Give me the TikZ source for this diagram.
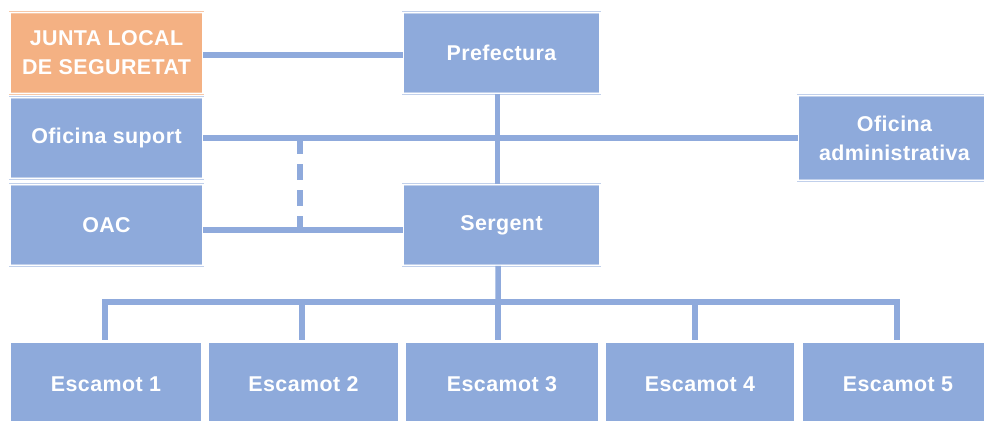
\documentclass[tikz,border=0pt]{standalone}
\usepackage{fontspec}
\setmainfont[LetterSpace=2]{Liberation Sans}
\usetikzlibrary{calc}
\definecolor{boxblue}{HTML}{8EAADB}
\definecolor{boxorange}{HTML}{F4B183}
\definecolor{lineblue}{HTML}{8FAADC}
\begin{document}
\begin{tikzpicture}[x=1bp,y=-1bp,
  orgbox/.style={rectangle, fill=boxblue, draw=boxblue!55, double=white, double distance=1.2bp, line width=0.6bp,
     minimum width=193bp, minimum height=81bp, inner sep=0pt, align=center, text=white,
     font=\bfseries\fontsize{21.5}{29}\selectfont},
  conn/.style={draw=lineblue, line width=5.5bp},
  dashconn/.style={draw=lineblue, line width=5.5bp, dash pattern=on 16bp off 10bp}]
\useasboundingbox (0,0) rectangle (984,420);
% boxes
\node[orgbox, fill=boxorange, draw=boxorange!70] (junta) at (106.5,53) {JUNTA LOCAL\\DE SEGURETAT};
\node[orgbox] (suport) at (106.5,138) {Oficina suport};
\node[orgbox] (oac) at (106.5,225) {OAC};
\node[orgbox, minimum width=197bp] (pref) at (501.5,53) {Prefectura};
\node[orgbox, minimum width=197bp] (serg) at (501.5,225) {Sergent};
\node[orgbox, minimum height=85bp] (admin) at (894.5,138) {Oficina\\administrativa};
\node[orgbox, minimum width=192bp, minimum height=84bp] (esc1) at (106,384) {Escamot 1};
\node[orgbox, minimum width=191bp, minimum height=84bp] (esc2) at (303.5,384) {Escamot 2};
\node[orgbox, minimum width=194bp, minimum height=84bp] (esc3) at (502,384) {Escamot 3};
\node[orgbox, minimum width=190bp, minimum height=84bp] (esc4) at (700,384) {Escamot 4};
\node[orgbox, minimum width=192bp, minimum height=84bp] (esc5) at (898,384) {Escamot 5};
% connectors
\draw[conn] ([yshift=-2bp]junta.east) -- ([yshift=-2bp]pref.west);
\draw[conn] (suport.east) -- (admin.west);
\draw[conn] ([xshift=-4bp]pref.south) -- ([xshift=-4bp]serg.north);
\draw[conn] ([yshift=-5bp]oac.east) -- ([yshift=-5bp]serg.west);
\coordinate (d1) at (300,138);
\coordinate (d2) at (300,230);
\draw[dashconn] (d1) -- (d2);
\coordinate (bus) at (498,302);
\draw[conn] ([xshift=-3.5bp]serg.south) -- (bus);
\draw[conn, line join=miter] ([xshift=-1bp,yshift=2bp]esc1.north) |- (bus) -| ([xshift=-1bp,yshift=2bp]esc5.north);
\draw[conn] ([xshift=-1.5bp,yshift=2bp]esc2.north) -- ([xshift=-1.5bp]esc2.north |- bus);
\draw[conn] ([xshift=-4bp,yshift=2bp]esc3.north) -- ([xshift=-4bp]esc3.north |- bus);
\draw[conn] ([xshift=-5bp,yshift=2bp]esc4.north) -- ([xshift=-5bp]esc4.north |- bus);
\end{tikzpicture}
\end{document}
